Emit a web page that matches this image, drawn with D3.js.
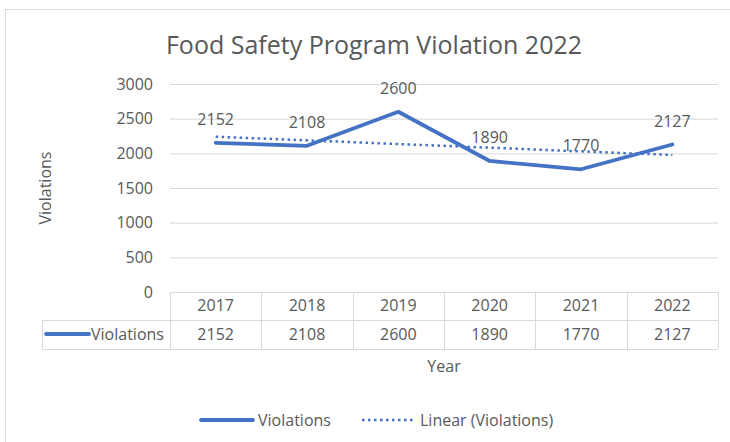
<!DOCTYPE html>
<html>
<head>
<meta charset="utf-8">
<script src="https://cdn.jsdelivr.net/npm/d3@7"></script>
<style>
  body { margin: 0; background: #fff; }
  svg text { font-family: "Open Sans", sans-serif; fill: #595959; }
</style>
</head>
<body>
<svg width="730" height="442"></svg>
<script>
// Data
var years = ["2017", "2018", "2019", "2020", "2021", "2022"];
var violations = [2152, 2108, 2600, 1890, 1770, 2127];
var yTicks = [0, 500, 1000, 1500, 2000, 2500, 3000];
var seriesName = "Violations";
var trendName = "Linear (Violations)";

var blue = "#4472C4",
    grid = "#d9d9d9";

var svg = d3.select("svg");

// chart border
svg.append("rect")
    .attr("x", 5.5).attr("y", 9.5)
    .attr("width", 740).attr("height", 450)
    .attr("fill", "none")
    .attr("stroke", grid);

var plotLeft = 170, plotRight = 718, plotTop = 84, plotBottom = 292;

var x = d3.scaleBand().domain(years).range([plotLeft, plotRight]);
var y = d3.scaleLinear().domain([0, 3000]).range([plotBottom, plotTop]);

// title
svg.append("text")
    .attr("x", 374).attr("y", 54)
    .attr("text-anchor", "middle")
    .style("font-size", "25px")
    .text("Food Safety Program Violation 2022");

// gridlines + y labels
var yAxis = svg.append("g")
    .attr("transform", "translate(" + plotLeft + ",0)")
    .call(d3.axisLeft(y).tickValues(yTicks).tickFormat(d3.format("d"))
        .tickSize(-(plotRight - plotLeft)).tickPadding(17));
yAxis.select(".domain").remove();
yAxis.selectAll("line").attr("stroke", grid);
yAxis.selectAll("text")
    .attr("fill", "#595959")
    .style("font-size", "16px")
    .style("font-family", "'Open Sans', sans-serif");

// y title
svg.append("text")
    .attr("transform", "translate(51,188) rotate(-90)")
    .attr("text-anchor", "middle")
    .style("font-size", "16px")
    .text("Violations");

// trend line (least squares over category index)
var n = violations.length,
    xs = d3.range(1, n + 1),
    mx = d3.mean(xs),
    my = d3.mean(violations),
    slope = d3.sum(xs, function(d, i) { return (d - mx) * (violations[i] - my); }) /
            d3.sum(xs, function(d) { return (d - mx) * (d - mx); });
var trend = xs.map(function(d) { return my + slope * (d - mx); });

var cx = function(d, i) { return x(years[i]) + x.bandwidth() / 2; };

svg.append("path")
    .datum(trend)
    .attr("fill", "none")
    .attr("stroke", blue)
    .attr("stroke-width", 2.5)
    .attr("stroke-dasharray", "2.5,3.5")
    .attr("d", d3.line().x(cx).y(function(d) { return y(d); }));

// main line
svg.append("path")
    .datum(violations)
    .attr("fill", "none")
    .attr("stroke", blue)
    .attr("stroke-width", 3.8)
    .attr("stroke-linejoin", "round")
    .attr("stroke-linecap", "round")
    .attr("d", d3.line().x(cx).y(function(d) { return y(d); }));

// data labels
svg.selectAll(".dlabel")
    .data(violations)
    .enter().append("text")
    .attr("class", "dlabel")
    .attr("x", cx)
    .attr("y", function(d) { return y(d) - 18; })
    .attr("text-anchor", "middle")
    .style("font-size", "16px")
    .text(function(d) { return d; });

// data table
var row1 = plotBottom, row2 = 320, row3 = 349, tableLeft = 42;
var tbl = svg.append("g").attr("stroke", grid).attr("stroke-width", 1);
tbl.append("line").attr("x1", tableLeft).attr("x2", plotRight).attr("y1", row2 + 0.5).attr("y2", row2 + 0.5);
tbl.append("line").attr("x1", tableLeft).attr("x2", plotRight).attr("y1", row3 + 0.5).attr("y2", row3 + 0.5);
tbl.append("line").attr("x1", tableLeft + 0.5).attr("x2", tableLeft + 0.5).attr("y1", row2).attr("y2", row3);
tbl.selectAll(".vline")
    .data(years.concat(["end"]))
    .enter().append("line")
    .attr("x1", function(d, i) { return i < n ? Math.round(x(d)) + 0.5 : plotRight + 0.5; })
    .attr("x2", function(d, i) { return i < n ? Math.round(x(d)) + 0.5 : plotRight + 0.5; })
    .attr("y1", row1).attr("y2", row3);

svg.selectAll(".yearlabel")
    .data(years)
    .enter().append("text")
    .attr("x", function(d) { return x(d) + x.bandwidth() / 2; })
    .attr("y", 311)
    .attr("text-anchor", "middle")
    .style("font-size", "16px")
    .text(function(d) { return d; });

svg.selectAll(".vallabel")
    .data(violations)
    .enter().append("text")
    .attr("x", cx)
    .attr("y", 340)
    .attr("text-anchor", "middle")
    .style("font-size", "16px")
    .text(function(d) { return d; });

// series key in table
svg.append("line")
    .attr("x1", 46).attr("x2", 89).attr("y1", 334).attr("y2", 334)
    .attr("stroke", blue).attr("stroke-width", 3.8).attr("stroke-linecap", "round");
svg.append("text")
    .attr("x", 91).attr("y", 340)
    .style("font-size", "16px")
    .text(seriesName);

// x title
svg.append("text")
    .attr("x", 444).attr("y", 372)
    .attr("text-anchor", "middle")
    .style("font-size", "16px")
    .text("Year");

// legend
var legend = svg.append("g").attr("transform", "translate(0,420)");
legend.append("line")
    .attr("x1", 201).attr("x2", 253)
    .attr("stroke", blue).attr("stroke-width", 3.8).attr("stroke-linecap", "round");
legend.append("text")
    .attr("x", 258).attr("y", 6)
    .style("font-size", "16px")
    .text(seriesName);
legend.append("line")
    .attr("x1", 362).attr("x2", 415)
    .attr("stroke", blue).attr("stroke-width", 2.5).attr("stroke-dasharray", "2.5,3.5");
legend.append("text")
    .attr("x", 420).attr("y", 6)
    .style("font-size", "16px")
    .text(trendName);
</script>
</body>
</html>
